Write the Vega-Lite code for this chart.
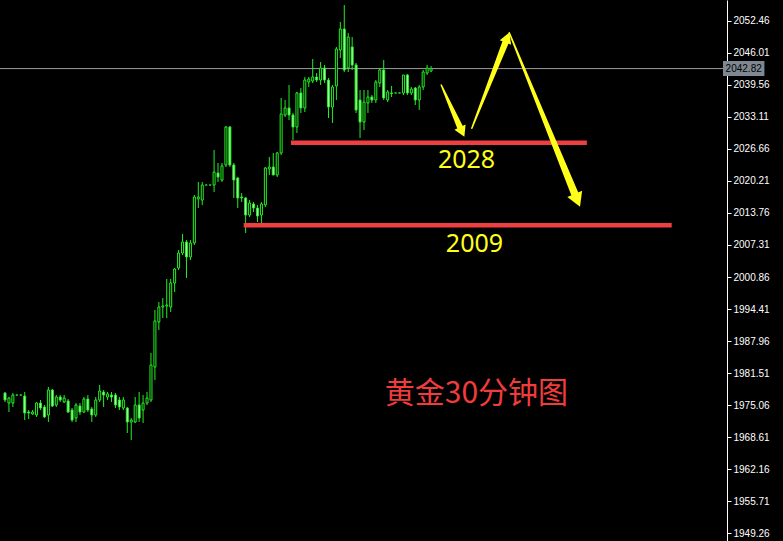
{
  "$schema": "https://vega.github.io/schema/vega-lite/v6.json",
  "width": 727,
  "height": 541,
  "autosize": "none",
  "padding": {"left": 0, "top": 0, "right": 56, "bottom": 0},
  "background": "#000000",
  "config": {"view": {"stroke": null}, "axis": {"labelOverlap": false}, "axisY": {"labelOverlap": false}},
  "datasets": {
    "candles": [
      {"t":0,"o":1977.51,"h":1977.71,"l":1975.70,"c":1976.10},
      {"t":1,"o":1975.49,"h":1976.70,"l":1973.68,"c":1976.50},
      {"t":2,"o":1975.49,"h":1977.51,"l":1974.69,"c":1977.10},
      {"t":3,"o":1977.10,"h":1977.10,"l":1977.10,"c":1977.10},
      {"t":4,"o":1977.10,"h":1977.10,"l":1977.10,"c":1977.10},
      {"t":5,"o":1976.90,"h":1977.71,"l":1972.07,"c":1973.48},
      {"t":6,"o":1973.68,"h":1974.08,"l":1972.27,"c":1973.48},
      {"t":7,"o":1973.28,"h":1974.08,"l":1973.08,"c":1973.68},
      {"t":8,"o":1973.08,"h":1975.70,"l":1972.68,"c":1975.49},
      {"t":9,"o":1975.49,"h":1976.10,"l":1974.08,"c":1974.49},
      {"t":10,"o":1974.69,"h":1975.09,"l":1972.47,"c":1972.68},
      {"t":11,"o":1973.08,"h":1978.72,"l":1971.67,"c":1978.11},
      {"t":12,"o":1978.11,"h":1978.31,"l":1974.69,"c":1974.89},
      {"t":13,"o":1975.09,"h":1977.10,"l":1974.69,"c":1976.70},
      {"t":14,"o":1976.70,"h":1977.10,"l":1975.70,"c":1976.10},
      {"t":15,"o":1975.70,"h":1977.10,"l":1975.49,"c":1976.50},
      {"t":16,"o":1975.90,"h":1976.30,"l":1973.48,"c":1973.68},
      {"t":17,"o":1974.08,"h":1974.49,"l":1971.67,"c":1972.07},
      {"t":18,"o":1972.47,"h":1975.49,"l":1971.67,"c":1975.09},
      {"t":19,"o":1974.89,"h":1975.49,"l":1973.08,"c":1973.68},
      {"t":20,"o":1973.68,"h":1976.70,"l":1973.48,"c":1976.30},
      {"t":21,"o":1976.30,"h":1977.10,"l":1973.68,"c":1974.08},
      {"t":22,"o":1974.29,"h":1974.69,"l":1971.67,"c":1973.08},
      {"t":23,"o":1973.08,"h":1976.70,"l":1972.68,"c":1976.10},
      {"t":24,"o":1976.10,"h":1979.12,"l":1975.70,"c":1977.91},
      {"t":25,"o":1977.71,"h":1978.11,"l":1974.69,"c":1977.10},
      {"t":26,"o":1976.70,"h":1977.71,"l":1976.10,"c":1977.31},
      {"t":27,"o":1977.10,"h":1977.71,"l":1975.70,"c":1976.70},
      {"t":28,"o":1977.10,"h":1977.51,"l":1974.49,"c":1975.09},
      {"t":29,"o":1976.10,"h":1976.70,"l":1974.08,"c":1974.69},
      {"t":30,"o":1974.49,"h":1976.70,"l":1974.08,"c":1976.10},
      {"t":31,"o":1974.49,"h":1974.69,"l":1969.45,"c":1971.67},
      {"t":32,"o":1971.67,"h":1972.47,"l":1968.05,"c":1972.07},
      {"t":33,"o":1971.67,"h":1976.70,"l":1971.47,"c":1975.09},
      {"t":34,"o":1975.09,"h":1977.71,"l":1971.67,"c":1972.47},
      {"t":35,"o":1974.08,"h":1977.10,"l":1971.47,"c":1975.49},
      {"t":36,"o":1975.49,"h":1977.71,"l":1975.09,"c":1976.50},
      {"t":37,"o":1976.10,"h":1985.56,"l":1975.70,"c":1983.15},
      {"t":38,"o":1982.74,"h":1994.22,"l":1980.13,"c":1992.00},
      {"t":39,"o":1991.80,"h":1995.83,"l":1990.19,"c":1994.82},
      {"t":40,"o":1994.82,"h":1996.63,"l":1992.61,"c":1995.02},
      {"t":41,"o":1995.02,"h":2000.46,"l":1992.61,"c":1995.22},
      {"t":42,"o":1994.82,"h":2000.46,"l":1993.82,"c":1999.65},
      {"t":43,"o":1999.65,"h":2002.67,"l":1997.84,"c":2002.47},
      {"t":44,"o":2002.67,"h":2006.30,"l":2002.27,"c":2005.69},
      {"t":45,"o":2005.69,"h":2009.52,"l":2005.29,"c":2007.91},
      {"t":46,"o":2007.91,"h":2008.31,"l":2000.66,"c":2004.89},
      {"t":47,"o":2004.89,"h":2008.31,"l":2004.28,"c":2007.71},
      {"t":48,"o":2007.71,"h":2017.37,"l":2007.30,"c":2016.97},
      {"t":49,"o":2016.57,"h":2019.99,"l":2014.75,"c":2016.97},
      {"t":50,"o":2016.36,"h":2019.99,"l":2015.36,"c":2019.38},
      {"t":51,"o":2019.38,"h":2019.38,"l":2019.38,"c":2019.38},
      {"t":52,"o":2019.38,"h":2019.38,"l":2019.38,"c":2019.38},
      {"t":53,"o":2019.38,"h":2026.43,"l":2017.97,"c":2022.00},
      {"t":54,"o":2021.80,"h":2023.81,"l":2019.99,"c":2020.99},
      {"t":55,"o":2020.39,"h":2023.81,"l":2019.99,"c":2023.21},
      {"t":56,"o":2023.41,"h":2031.26,"l":2023.01,"c":2031.06},
      {"t":57,"o":2031.06,"h":2031.26,"l":2023.01,"c":2023.41},
      {"t":58,"o":2023.41,"h":2023.81,"l":2016.77,"c":2020.39},
      {"t":59,"o":2020.79,"h":2020.99,"l":2014.75,"c":2016.77},
      {"t":60,"o":2016.97,"h":2017.77,"l":2015.96,"c":2016.77},
      {"t":61,"o":2016.77,"h":2016.97,"l":2009.72,"c":2013.34},
      {"t":62,"o":2013.34,"h":2016.36,"l":2012.94,"c":2015.76},
      {"t":63,"o":2015.56,"h":2015.96,"l":2013.95,"c":2014.75},
      {"t":64,"o":2014.75,"h":2015.36,"l":2011.93,"c":2013.14},
      {"t":65,"o":2013.34,"h":2015.96,"l":2011.73,"c":2015.56},
      {"t":66,"o":2015.36,"h":2023.01,"l":2014.95,"c":2022.81},
      {"t":67,"o":2022.61,"h":2025.02,"l":2021.40,"c":2023.01},
      {"t":68,"o":2023.01,"h":2025.83,"l":2021.40,"c":2021.40},
      {"t":69,"o":2021.40,"h":2026.03,"l":2020.99,"c":2025.83},
      {"t":70,"o":2025.83,"h":2036.90,"l":2025.42,"c":2033.68},
      {"t":71,"o":2033.48,"h":2036.50,"l":2033.07,"c":2034.89},
      {"t":72,"o":2034.89,"h":2039.52,"l":2032.47,"c":2033.48},
      {"t":73,"o":2033.48,"h":2033.88,"l":2028.44,"c":2031.06},
      {"t":74,"o":2031.06,"h":2038.11,"l":2029.85,"c":2037.91},
      {"t":75,"o":2037.91,"h":2038.91,"l":2033.88,"c":2034.89},
      {"t":76,"o":2034.89,"h":2041.13,"l":2034.08,"c":2040.52},
      {"t":77,"o":2040.12,"h":2041.13,"l":2039.11,"c":2040.72},
      {"t":78,"o":2040.32,"h":2044.75,"l":2039.92,"c":2041.13},
      {"t":79,"o":2041.13,"h":2041.93,"l":2040.12,"c":2040.52},
      {"t":80,"o":2040.52,"h":2044.15,"l":2039.52,"c":2042.94},
      {"t":81,"o":2042.94,"h":2043.54,"l":2039.92,"c":2040.52},
      {"t":82,"o":2040.52,"h":2040.93,"l":2032.87,"c":2035.09},
      {"t":83,"o":2035.09,"h":2039.52,"l":2031.87,"c":2039.11},
      {"t":84,"o":2039.32,"h":2047.17,"l":2036.50,"c":2046.76},
      {"t":85,"o":2046.56,"h":2052.20,"l":2044.95,"c":2050.79},
      {"t":86,"o":2050.79,"h":2055.62,"l":2042.13,"c":2042.54},
      {"t":87,"o":2042.94,"h":2049.99,"l":2042.13,"c":2049.18},
      {"t":88,"o":2047.17,"h":2049.18,"l":2042.54,"c":2043.54},
      {"t":89,"o":2043.54,"h":2043.95,"l":2033.88,"c":2034.48},
      {"t":90,"o":2036.50,"h":2038.51,"l":2028.85,"c":2032.07},
      {"t":91,"o":2032.07,"h":2038.51,"l":2030.46,"c":2036.09},
      {"t":92,"o":2035.89,"h":2038.51,"l":2033.88,"c":2037.10},
      {"t":93,"o":2037.10,"h":2037.50,"l":2035.89,"c":2036.50},
      {"t":94,"o":2036.50,"h":2040.52,"l":2035.89,"c":2040.12},
      {"t":95,"o":2039.92,"h":2042.94,"l":2039.11,"c":2042.54},
      {"t":96,"o":2042.54,"h":2044.55,"l":2036.50,"c":2036.90},
      {"t":97,"o":2036.50,"h":2038.51,"l":2036.09,"c":2038.11},
      {"t":98,"o":2037.91,"h":2039.32,"l":2037.10,"c":2037.81},
      {"t":99,"o":2037.91,"h":2037.91,"l":2037.91,"c":2037.91},
      {"t":100,"o":2037.91,"h":2037.91,"l":2037.91,"c":2037.91},
      {"t":101,"o":2037.91,"h":2041.53,"l":2037.50,"c":2041.53},
      {"t":102,"o":2041.53,"h":2041.73,"l":2037.50,"c":2037.91},
      {"t":103,"o":2037.91,"h":2039.11,"l":2037.50,"c":2038.71},
      {"t":104,"o":2038.91,"h":2039.11,"l":2035.49,"c":2036.50},
      {"t":105,"o":2036.50,"h":2039.52,"l":2034.48,"c":2039.11},
      {"t":106,"o":2039.11,"h":2042.54,"l":2038.51,"c":2042.13},
      {"t":107,"o":2041.93,"h":2043.54,"l":2041.53,"c":2042.94},
      {"t":108,"o":2042.34,"h":2043.34,"l":2042.13,"c":2042.82}
    ],
    "levels": [
      {"t1": 60.5, "t2": 169, "p": 2011.27},
      {"t1": 72.5, "t2": 147.5, "p": 2027.90}
    ],
    "shafts": [
      {"id": 1, "k": 0, "t": 110.58, "p": 2039.52, "w": 1.5},
      {"id": 1, "k": 1, "t": 115.35, "p": 2031.02, "w": 6},
      {"id": 2, "k": 0, "t": 118.33, "p": 2030.80, "w": 1.5},
      {"id": 2, "k": 1, "t": 126.87, "p": 2048.10, "w": 6.5},
      {"id": 3, "k": 0, "t": 127.83, "p": 2050.05, "w": 1.5},
      {"id": 3, "k": 1, "t": 144.43, "p": 2017.60, "w": 7.5}
    ],
    "heads": [
      {"id": 1, "t": 115.89, "p": 2030.06, "a": 155.6, "s": 150},
      {"id": 2, "t": 127.35, "p": 2049.07, "a": 21.7, "s": 150},
      {"id": 3, "t": 145.09, "p": 2016.31, "a": 157.6, "s": 256}
    ],
    "labels": [
      {"text": "2028", "t": 117, "p": 2024.42},
      {"text": "2009", "t": 119, "p": 2007.51}
    ],
    "title": [
      {"text": "黄金30分钟图", "t": 119.5, "p": 1977.31}
    ],
    "price": [
      {"p": 2042.82, "t1": 182, "t2": 192.5, "hi": 2044.35, "lo": 2041.33, "tc": 187.25, "text": "2042.82"}
    ]
  },
  "encoding": {
    "y": {"type": "quantitative", "scale": {"domain": [1947.71, 2056.63], "nice": false, "zero": false},
      "axis": {"orient": "right", "values": [2052.46, 2046.01, 2039.56, 2033.11, 2026.66, 2020.21, 2013.76, 2007.31, 2000.86, 1994.41, 1987.96, 1981.51, 1975.06, 1968.61, 1962.16, 1955.71, 1949.26],
        "format": ".2f", "title": null, "grid": false, "domainColor": "#ffffff", "domainWidth": 1, "tickColor": "#ffffff", "tickSize": 4,
        "labelColor": "#ffffff", "labelFont": "Liberation Sans", "labelFontSize": 10, "labelPadding": 2, "labelOverlap": false, "labelBound": false, "labelFlush": false}}
  },
  "layer": [
    {
      "data": {"name": "price"},
      "mark": {"type": "rule", "color": "#9c9c9c", "strokeWidth": 1},
      "encoding": {
        "y": {"field": "p", "type": "quantitative", "scale": {"domain": [1947.71, 2056.63], "nice": false, "zero": false},
          "axis": {"orient": "right", "values": [2052.46, 2046.01, 2039.56, 2033.11, 2026.66, 2020.21, 2013.76, 2007.31, 2000.86, 1994.41, 1987.96, 1981.51, 1975.06, 1968.61, 1962.16, 1955.71, 1949.26],
            "format": ".2f", "title": null, "grid": false, "domainColor": "#ffffff", "domainWidth": 1, "tickColor": "#ffffff", "tickSize": 4,
            "labelColor": "#ffffff", "labelFont": "Liberation Sans", "labelFontSize": 10, "labelPadding": 2, "labelOverlap": false, "labelBound": false, "labelFlush": false}}
      }
    },
    {
      "data": {"name": "candles"},
      "mark": {"type": "rule", "color": "#22ee22", "strokeWidth": 1},
      "encoding": {
        "x": {"field": "t", "type": "quantitative", "scale": {"domain": [0, 181.75], "nice": false, "zero": false}, "axis": null},
        "y": {"field": "h", "type": "quantitative"},
        "y2": {"field": "l"}
      }
    },
    {
      "data": {"name": "candles"},
      "mark": {"type": "bar", "size": 2, "stroke": "#22ee22", "strokeWidth": 1},
      "encoding": {
        "x": {"field": "t", "type": "quantitative"},
        "y": {"field": "o", "type": "quantitative"},
        "y2": {"field": "c"},
        "fill": {"condition": {"test": "datum.c < datum.o", "value": "#b8f5b8"}, "value": "#000000"}
      }
    },
    {
      "data": {"name": "levels"},
      "mark": {"type": "rule", "color": "#ee4040", "strokeWidth": 4.5},
      "encoding": {
        "x": {"field": "t1", "type": "quantitative"},
        "x2": {"field": "t2"},
        "y": {"field": "p", "type": "quantitative"}
      }
    },
    {
      "data": {"name": "shafts"},
      "mark": {"type": "trail", "color": "#ffff1a"},
      "encoding": {
        "x": {"field": "t", "type": "quantitative"},
        "y": {"field": "p", "type": "quantitative"},
        "detail": {"field": "id", "type": "nominal"},
        "order": {"field": "k", "type": "quantitative"},
        "size": {"field": "w", "type": "quantitative", "scale": null, "legend": null}
      }
    },
    {
      "data": {"name": "heads"},
      "mark": {"type": "point", "shape": "triangle-up", "filled": true, "color": "#ffff1a", "opacity": 1, "strokeWidth": 0},
      "encoding": {
        "x": {"field": "t", "type": "quantitative"},
        "y": {"field": "p", "type": "quantitative"},
        "angle": {"field": "a", "type": "quantitative", "scale": null},
        "size": {"field": "s", "type": "quantitative", "scale": null, "legend": null}
      }
    },
    {
      "data": {"name": "labels"},
      "mark": {"type": "text", "color": "#ffff1a", "font": "Noto Sans", "fontSize": 25, "align": "center", "baseline": "middle"},
      "encoding": {
        "x": {"field": "t", "type": "quantitative"},
        "y": {"field": "p", "type": "quantitative"},
        "text": {"field": "text"}
      }
    },
    {
      "data": {"name": "title"},
      "mark": {"type": "text", "color": "#f03c3c", "font": "Noto Sans CJK SC", "fontSize": 30, "align": "center", "baseline": "middle"},
      "encoding": {
        "x": {"field": "t", "type": "quantitative"},
        "y": {"field": "p", "type": "quantitative"},
        "text": {"field": "text"}
      }
    },
    {
      "data": {"name": "price"},
      "mark": {"type": "rect", "color": "#7f8892", "clip": false},
      "encoding": {
        "x": {"field": "t1", "type": "quantitative"},
        "x2": {"field": "t2"},
        "y": {"field": "hi", "type": "quantitative"},
        "y2": {"field": "lo"}
      }
    },
    {
      "data": {"name": "price"},
      "mark": {"type": "text", "color": "#000000", "font": "Liberation Sans", "fontSize": 10, "align": "center", "baseline": "middle", "clip": false},
      "encoding": {
        "x": {"field": "tc", "type": "quantitative"},
        "y": {"field": "p", "type": "quantitative"},
        "text": {"field": "text"}
      }
    }
  ]
}
